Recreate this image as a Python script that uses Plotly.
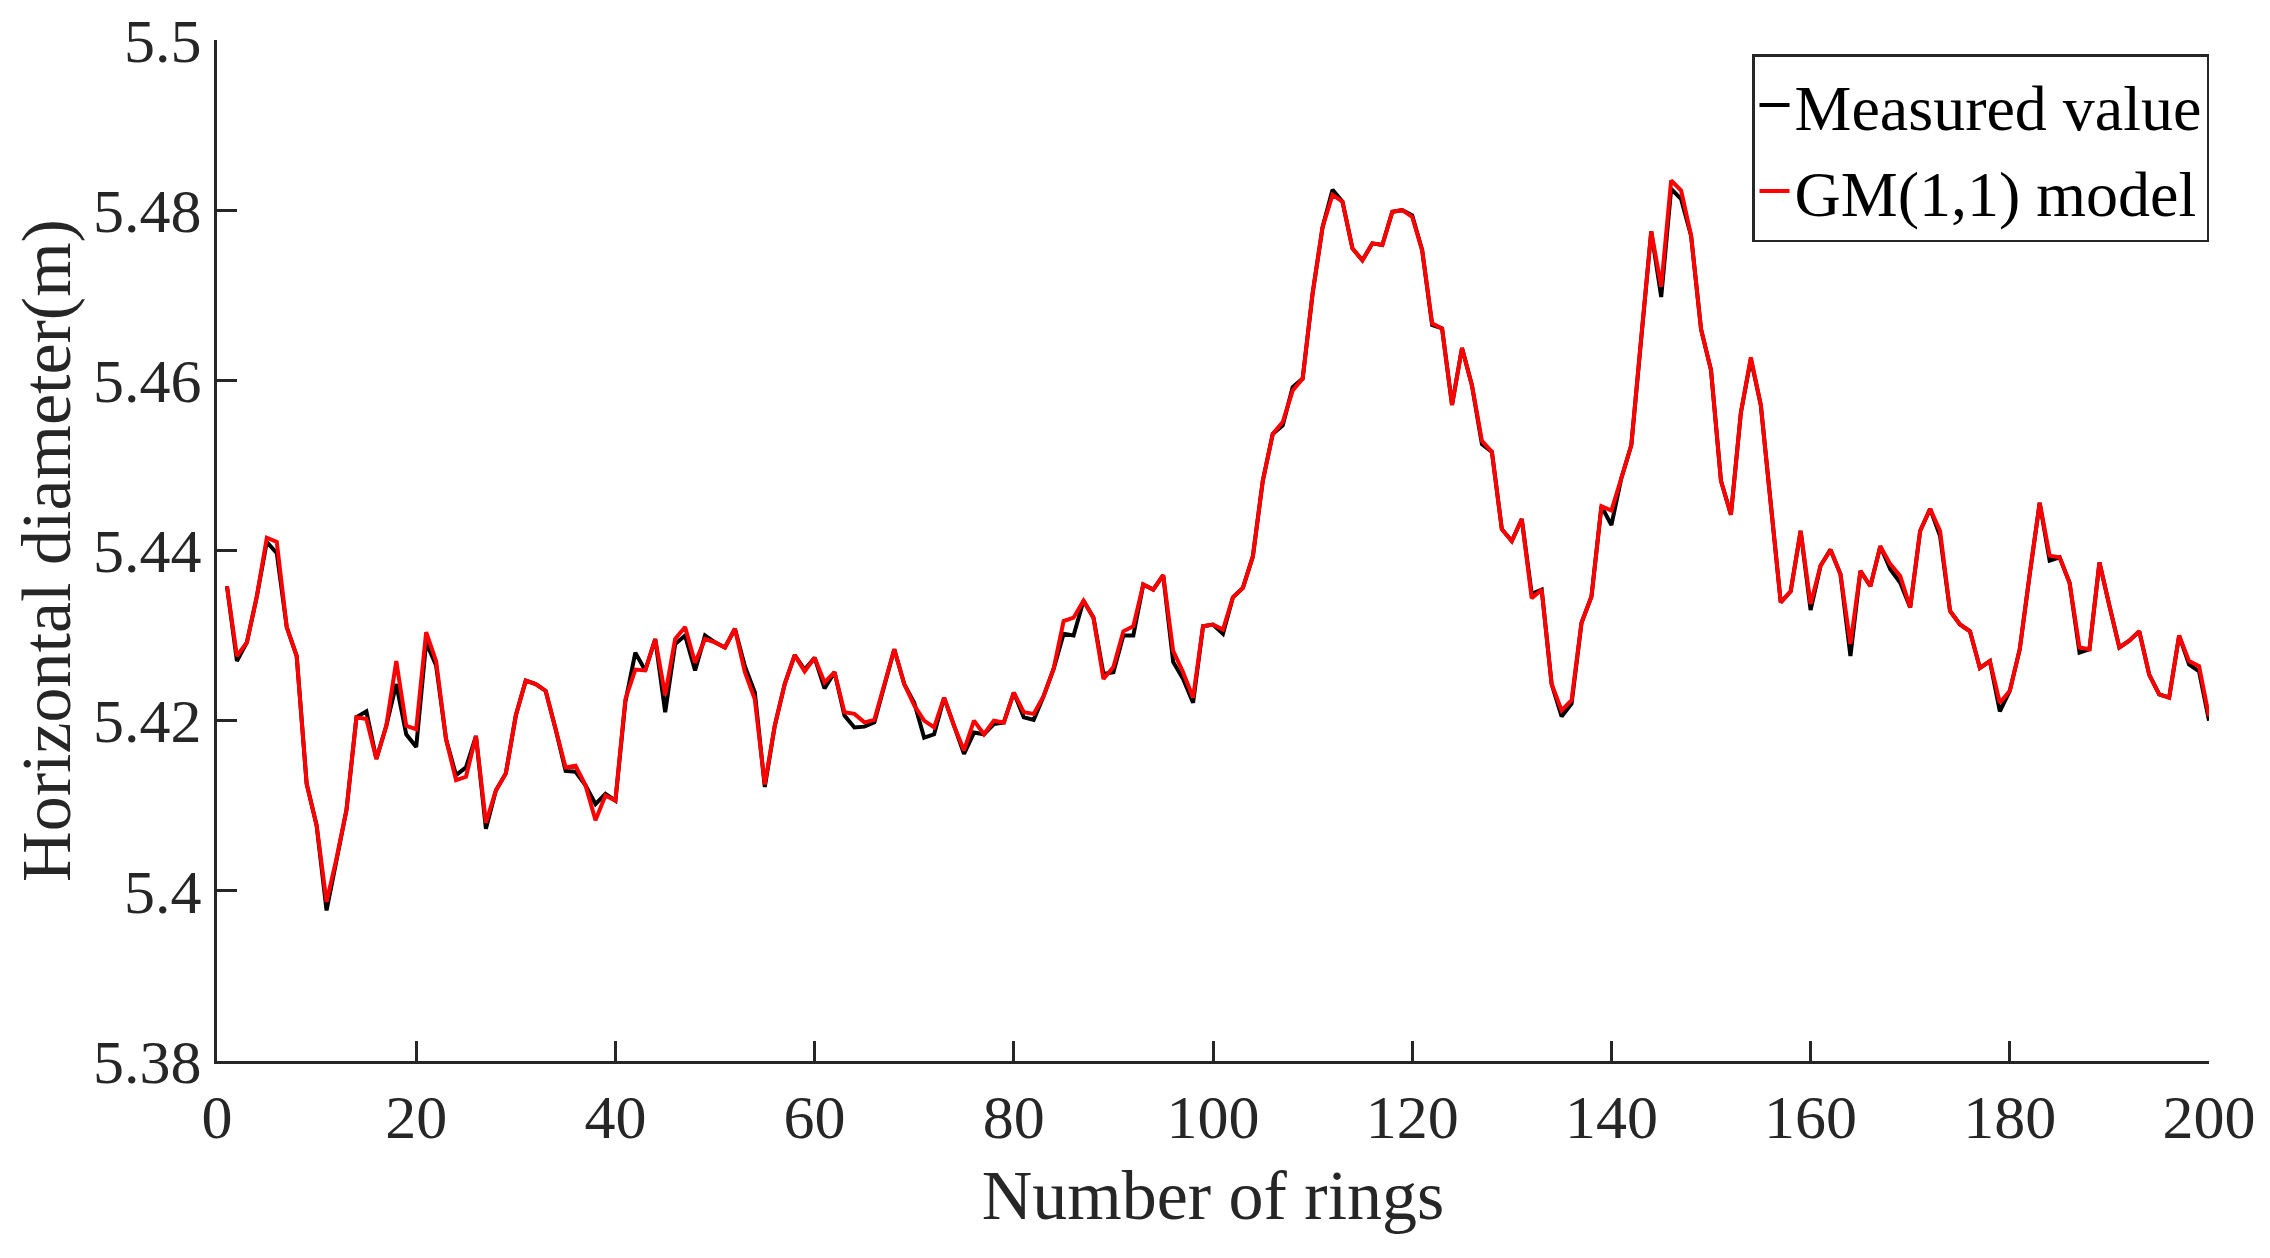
import plotly.graph_objects as go

rings = list(range(1, 201))

measured = [
    5.4358, 5.4270, 5.4292, 5.4346, 5.4410, 5.4397, 5.4310, 5.4276, 5.4126, 5.4077,
    5.3977, 5.4038, 5.4095, 5.4204, 5.4211, 5.4155, 5.4194, 5.4243, 5.4184, 5.4169,
    5.4292, 5.4265, 5.4178, 5.4136, 5.4145, 5.4182, 5.4073, 5.4118, 5.4138, 5.4206,
    5.4247, 5.4243, 5.4235, 5.4190, 5.4141, 5.4140, 5.4124, 5.4102, 5.4114, 5.4106,
    5.4222, 5.4280, 5.4259, 5.4296, 5.4210, 5.4290, 5.4300, 5.4259, 5.4300, 5.4292,
    5.4286, 5.4308, 5.4264, 5.4233, 5.4122, 5.4194, 5.4243, 5.4277, 5.4260, 5.4274,
    5.4238, 5.4257, 5.4206, 5.4192, 5.4193, 5.4198, 5.4241, 5.4284, 5.4243, 5.4221,
    5.4180, 5.4184, 5.4227, 5.4194, 5.4161, 5.4186, 5.4184, 5.4196, 5.4198, 5.4233,
    5.4204, 5.4201, 5.4229, 5.4261, 5.4302, 5.4300, 5.4341, 5.4321, 5.4255, 5.4257,
    5.4300, 5.4300, 5.4360, 5.4354, 5.4371, 5.4269, 5.4249, 5.4221, 5.4311, 5.4313,
    5.4302, 5.4345, 5.4356, 5.4393, 5.4482, 5.4537, 5.4547, 5.4592, 5.4602, 5.4702,
    5.4780, 5.4824, 5.4810, 5.4755, 5.4741, 5.4761, 5.4759, 5.4798, 5.4800, 5.4794,
    5.4753, 5.4665, 5.4661, 5.4571, 5.4638, 5.4594, 5.4525, 5.4516, 5.4425, 5.4411,
    5.4437, 5.4349, 5.4354, 5.4243, 5.4205, 5.4220, 5.4315, 5.4346, 5.4452, 5.4430,
    5.4485, 5.4524, 5.4651, 5.4775, 5.4698, 5.4825, 5.4813, 5.4770, 5.4660, 5.4612,
    5.4482, 5.4442, 5.4562, 5.4625, 5.4571, 5.4459, 5.4339, 5.4352, 5.4423, 5.4330,
    5.4382, 5.4401, 5.4372, 5.4276, 5.4376, 5.4358, 5.4405, 5.4378, 5.4362, 5.4333,
    5.4423, 5.4449, 5.4417, 5.4329, 5.4313, 5.4305, 5.4262, 5.4270, 5.4211, 5.4235,
    5.4284, 5.4372, 5.4456, 5.4388, 5.4392, 5.4362, 5.4280, 5.4284, 5.4386, 5.4335,
    5.4286, 5.4294, 5.4305, 5.4254, 5.4231, 5.4227, 5.4300, 5.4266, 5.4258, 5.4200,
]

gm_model = [
    5.4358, 5.4276, 5.4292, 5.4346, 5.4415, 5.4410, 5.4310, 5.4276, 5.4126, 5.4077,
    5.3987, 5.4038, 5.4095, 5.4204, 5.4202, 5.4155, 5.4194, 5.4270, 5.4194, 5.4190,
    5.4304, 5.4270, 5.4178, 5.4130, 5.4134, 5.4182, 5.4080, 5.4118, 5.4138, 5.4206,
    5.4247, 5.4243, 5.4235, 5.4190, 5.4145, 5.4147, 5.4124, 5.4083, 5.4112, 5.4106,
    5.4225, 5.4260, 5.4259, 5.4296, 5.4230, 5.4296, 5.4310, 5.4268, 5.4296, 5.4292,
    5.4286, 5.4308, 5.4257, 5.4225, 5.4125, 5.4194, 5.4243, 5.4277, 5.4258, 5.4274,
    5.4245, 5.4257, 5.4210, 5.4208, 5.4198, 5.4201, 5.4241, 5.4284, 5.4243, 5.4218,
    5.4200, 5.4192, 5.4227, 5.4194, 5.4165, 5.4200, 5.4184, 5.4200, 5.4198, 5.4233,
    5.4210, 5.4208, 5.4229, 5.4261, 5.4317, 5.4321, 5.4341, 5.4321, 5.4249, 5.4263,
    5.4305, 5.4311, 5.4360, 5.4354, 5.4371, 5.4282, 5.4257, 5.4227, 5.4311, 5.4313,
    5.4307, 5.4345, 5.4356, 5.4393, 5.4482, 5.4537, 5.4551, 5.4588, 5.4602, 5.4702,
    5.4780, 5.4818, 5.4810, 5.4755, 5.4741, 5.4761, 5.4759, 5.4798, 5.4800, 5.4792,
    5.4753, 5.4667, 5.4661, 5.4571, 5.4638, 5.4594, 5.4529, 5.4516, 5.4425, 5.4411,
    5.4437, 5.4344, 5.4354, 5.4243, 5.4212, 5.4224, 5.4315, 5.4346, 5.4452, 5.4447,
    5.4485, 5.4524, 5.4651, 5.4775, 5.4710, 5.4835, 5.4823, 5.4770, 5.4660, 5.4612,
    5.4482, 5.4442, 5.4562, 5.4627, 5.4571, 5.4459, 5.4339, 5.4352, 5.4423, 5.4337,
    5.4382, 5.4401, 5.4372, 5.4290, 5.4376, 5.4358, 5.4405, 5.4384, 5.4370, 5.4333,
    5.4423, 5.4449, 5.4423, 5.4329, 5.4313, 5.4305, 5.4262, 5.4270, 5.4221, 5.4235,
    5.4284, 5.4372, 5.4456, 5.4394, 5.4392, 5.4362, 5.4286, 5.4284, 5.4386, 5.4335,
    5.4286, 5.4294, 5.4305, 5.4254, 5.4231, 5.4227, 5.4300, 5.4270, 5.4264, 5.4205,
]

y_ticks = [5.38, 5.40, 5.42, 5.44, 5.46, 5.48, 5.50]
y_tick_labels = ["5.38", "5.4", "5.42", "5.44", "5.46", "5.48", "5.5"]
x_ticks = [0, 20, 40, 60, 80, 100, 120, 140, 160, 180, 200]

font_name = "Liberation Serif"
axis_color = "#262626"

fig = go.Figure()
fig.add_trace(go.Scatter(x=rings, y=measured, mode="lines", name="Measured value",
                         line=dict(color="black", width=4)))
fig.add_trace(go.Scatter(x=rings, y=gm_model, mode="lines", name="GM(1,1) model",
                         line=dict(color="red", width=4)))

# the page body adds an 8px margin, so the figure is sized to fit the window
fig.update_layout(
    width=2262, height=1250,
    margin=dict(l=209, r=61, t=32, b=197),
    paper_bgcolor="white", plot_bgcolor="white",
    font=dict(family=font_name, size=62, color=axis_color),
    showlegend=True,
    legend=dict(x=1, xanchor="right", y=0.986, yanchor="top",
                bgcolor="white", bordercolor=axis_color, borderwidth=2.5,
                font=dict(family=font_name, size=64, color="black"),
                tracegroupgap=0),
)

fig.update_xaxes(
    range=[0, 200], tickvals=x_ticks, ticks="inside", ticklen=20, tickwidth=2.5,
    tickcolor=axis_color, showline=True, linewidth=3, linecolor=axis_color,
    showgrid=False, zeroline=False, automargin=False, ticklabeloverflow="allow",
    tickfont=dict(family=font_name, size=62, color=axis_color),
    title=dict(text="Number of rings", font=dict(family=font_name, size=70, color=axis_color),
               standoff=20),
)
fig.update_yaxes(
    range=[5.38, 5.5], tickvals=y_ticks, ticktext=y_tick_labels, ticks="inside",
    ticklen=20, tickwidth=2.5, tickcolor=axis_color, showline=True, linewidth=3,
    linecolor=axis_color, showgrid=False, zeroline=False, automargin=False,
    ticklabeloverflow="allow",
    tickfont=dict(family=font_name, size=62, color=axis_color),
    title=dict(text="Horizontal diameter(m)", font=dict(family=font_name, size=70, color=axis_color),
               standoff=12),
)

fig.write_html("out.html")
